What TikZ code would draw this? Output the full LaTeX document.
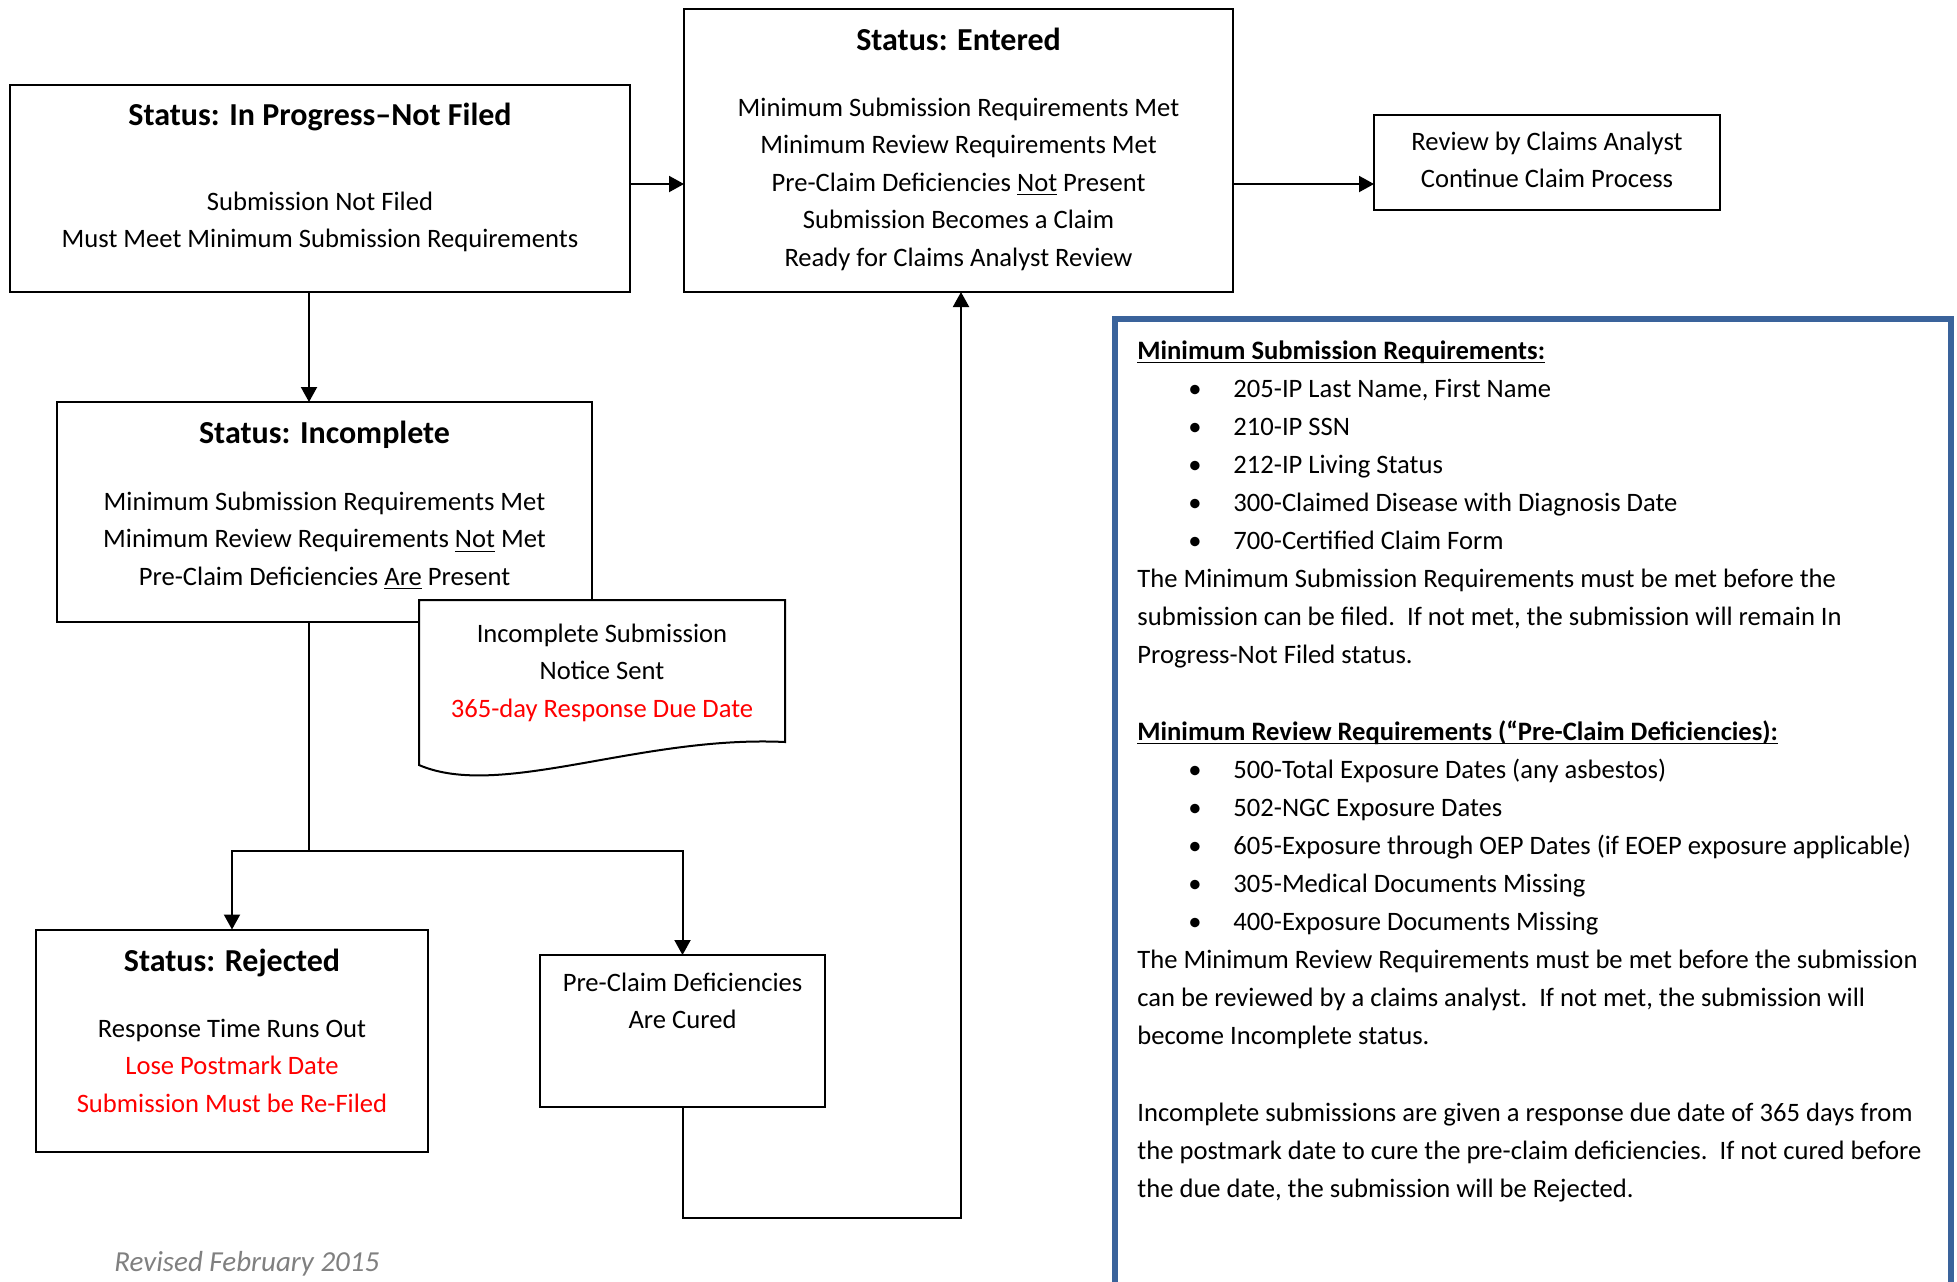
\documentclass[tikz,border=0pt]{standalone}
\usepackage{fontspec}
\setmainfont{Carlito}
\usetikzlibrary{arrows.meta}
\definecolor{infoblue}{RGB}{58,99,155}
\definecolor{revgray}{RGB}{128,128,128}
\definecolor{notered}{RGB}{255,0,0}
\newcommand{\bodyfont}{\fontsize{13.3}{18.75}\selectfont}
\newcommand{\titlefont}{\fontsize{16}{19}\selectfont\bfseries}
\newlength{\myulw}
\newcommand{\myul}[1]{\settowidth{\myulw}{#1}\rlap{\rule[-2.2pt]{\myulw}{0.7pt}}#1}
\newcommand{\blines}[1]{\begin{minipage}[t]{320pt}\centering\bodyfont #1\end{minipage}}
\newcommand{\ibul}{\makebox[48pt][l]{\hspace*{25.5pt}•}}
\begin{document}
\begin{tikzpicture}[x=0.5pt, y=-0.5pt,
  flowbox/.style n args={2}{draw, line width=1pt, inner sep=0, outer sep=0,
     minimum width=#1*0.5pt, minimum height=#2*0.5pt},
  ttl/.style={inner sep=0, anchor=base, font=\titlefont},
  btx/.style={inner sep=0, anchor=base},
  arr/.style={line width=1pt, -{Triangle[length=7.5pt,width=8pt]}},
  con/.style={line width=1pt}]
\useasboundingbox[fill=white] (0,0) rectangle (1957,1281);

% boxes
\node[flowbox={620}{207}] (ip) at (320,188.5) {};
\node[flowbox={549}{283}] (ent) at (958.5,150.5) {};
\node[flowbox={346}{95}] (rev) at (1547,162.5) {};
\node[flowbox={535}{220}] (inc) at (324.5,512) {};
\node[flowbox={392}{222}] (rej) at (232,1040.5) {};
\node[flowbox={285}{152}] (cur) at (682.5,1031) {};

% document shape
\draw[line width=1pt, fill=white] (419,600) -- (785,600) -- (785,742)
   .. controls (640,735) and (500,800) .. (419,765) -- cycle;

% info box
\node[draw=infoblue, line width=3pt, inner sep=0, outer sep=0,
      minimum width=418pt, minimum height=510pt, anchor=north west] (info) at (1115,319) {};

% texts
\node[ttl] (ipT) at (320,125) {Status: In Progress–Not Filed};
\node[btx] (ipB) at (320,210) {\blines{Submission Not Filed\\Must Meet Minimum Submission Requirements}};

\node[ttl] (entT) at (958.5,50) {Status: Entered};
\node[btx] (entB) at (958.5,116) {\blines{Minimum Submission Requirements Met\\Minimum Review Requirements Met\\Pre-Claim Deficiencies \myul{Not} Present\\Submission Becomes a Claim\\Ready for Claims Analyst Review}};

\node[btx] (revB) at (1547,150) {\blines{Review by Claims Analyst\\Continue Claim Process}};

\node[ttl] (incT) at (324.5,443) {Status: Incomplete};
\node[btx] (incB) at (324.5,510) {\blines{Minimum Submission Requirements Met\\Minimum Review Requirements \myul{Not} Met\\Pre-Claim Deficiencies \myul{Are} Present}};

\node[btx] (docB) at (602,642) {\blines{Incomplete Submission\\Notice Sent\\\textcolor{notered}{365-day Response Due Date}}};

\node[ttl] (rejT) at (232,971) {Status: Rejected};
\node[btx] (rejB) at (232,1037) {\blines{Response Time Runs Out\\\textcolor{notered}{Lose Postmark Date}\\\textcolor{notered}{Submission Must be Re-Filed}}};

\node[btx] (curB) at (682.5,991) {\blines{Pre-Claim Deficiencies\\Are Cured}};

\node[inner sep=0, anchor=base west] (infoT) at (1137,359) {\begin{minipage}[t]{410pt}\fontsize{13.3}{19.05}\selectfont\raggedright
\textbf{\myul{Minimum Submission Requirements:}}\\
\ibul 205-IP Last Name, First Name\\
\ibul 210-IP SSN\\
\ibul 212-IP Living Status\\
\ibul 300-Claimed Disease with Diagnosis Date\\
\ibul 700-Certified Claim Form\\
The Minimum Submission Requirements must be met before the\\
submission can be filed.\ \ If not met, the submission will remain In\\
Progress-Not Filed status.\\
\mbox{}\\
\textbf{\myul{Minimum Review Requirements (“Pre-Claim Deficiencies):}}\\
\ibul 500-Total Exposure Dates (any asbestos)\\
\ibul 502-NGC Exposure Dates\\
\ibul 605-Exposure through OEP Dates (if EOEP exposure applicable)\\
\ibul 305-Medical Documents Missing\\
\ibul 400-Exposure Documents Missing\\
The Minimum Review Requirements must be met before the submission\\
can be reviewed by a claims analyst.\ \ If not met, the submission will\\
become Incomplete status.\\
\mbox{}\\
Incomplete submissions are given a response due date of 365 days from\\
the postmark date to cure the pre-claim deficiencies.\ \ If not cured before\\
the due date, the submission will be Rejected.
\end{minipage}};

\node[inner sep=0, anchor=base west, text=revgray, font=\fontsize{14.5}{17}\selectfont\itshape] (revd) at (114,1271) {Revised February 2015};

% connectors
\coordinate (ay) at (0,184);
\draw[arr] (ip.east |- ay) -- (ent.west |- ay);
\draw[arr] (ent.east |- ay) -- (rev.west |- ay);
\coordinate (vx) at (309,0);
\draw[arr] (ip.south -| vx) -- (inc.north -| vx);
\coordinate (sp) at (309,851);
\draw[con] (inc.south -| vx) -- (sp);
\draw[arr] (sp) -| (rej.north);
\draw[arr] (sp) -| (cur.north);
\coordinate (lp) at (961,1218);
\draw[arr] (cur.south) |- (lp) -- (ent.south -| lp);
\end{tikzpicture}
\end{document}
